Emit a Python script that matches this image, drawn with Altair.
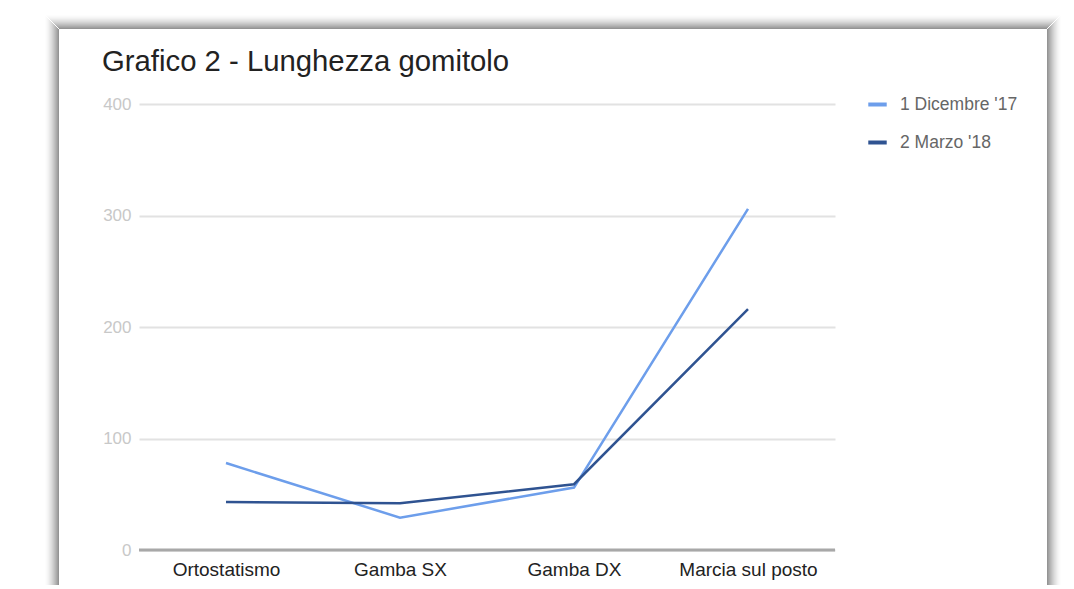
import altair as alt
import pandas as pd

categories = ["Ortostatismo", "Gamba SX", "Gamba DX", "Marcia sul posto"]
series_names = ["1 Dicembre '17", "2 Marzo '18"]
dic_17 = [78, 29, 56, 306]
mar_18 = [43, 42, 59, 216]
y_ticks = [0, 100, 200, 300, 400]
colors = ["#6d9eeb", "#2f5391"]

rows = []
for c, v in zip(categories, dic_17):
    rows.append({"categoria": c, "serie": series_names[0], "valore": v})
for c, v in zip(categories, mar_18):
    rows.append({"categoria": c, "serie": series_names[1], "valore": v})
df = pd.DataFrame(rows)

FONT = "Liberation Sans"

y_axis = alt.Axis(values=y_ticks, labelFontSize=17, labelColor="#c8c8c8",
                  labelFont=FONT, labelPadding=8, ticks=False,
                  domain=False, gridColor="#e2e2e2", gridWidth=2)
y_scale = alt.Scale(domain=[0, 400], nice=False)

lines = alt.Chart(df).mark_line(strokeWidth=2.5).encode(
    x=alt.X("categoria:N", sort=categories, title=None,
            scale=alt.Scale(type="point", padding=0.5),
            axis=alt.Axis(labelAngle=0, labelFontSize=19, labelColor="#222222",
                          labelFont=FONT, labelPadding=10, ticks=False,
                          domain=False, grid=False)),
    y=alt.Y("valore:Q", title=None, scale=y_scale, axis=y_axis),
    color=alt.Color("serie:N", sort=series_names,
                    scale=alt.Scale(domain=series_names, range=colors),
                    legend=alt.Legend(title=None, orient="none", legendX=727,
                                      legendY=-11, symbolType="stroke",
                                      symbolSize=340, symbolStrokeWidth=4,
                                      labelFontSize=17.5, labelColor="#666666",
                                      labelFont=FONT, labelOffset=11,
                                      rowPadding=18)),
    order=alt.Order("serie:N"),
)

zero = alt.Chart(pd.DataFrame({"valore": [0]})).mark_rule(color="#a8a8a8", strokeWidth=3).encode(
    y=alt.Y("valore:Q", title=None, scale=y_scale, axis=y_axis)
)

# decorative card shadow (left, top, right edges)
one = pd.DataFrame({"a": [0]})
shadow_layers = []
L, T, R, B = -80, -75, 908, 600
for d in range(1, 15):
    op = 0.42 * (1 - (d - 1) / 14) ** 1.6
    base = alt.Chart(one).mark_rule(color="#000000", strokeWidth=1, opacity=op)
    shadow_layers.append(base.encode(x=alt.value(L - d + 0.5), y=alt.value(T - d + 1), y2=alt.value(B)))
    shadow_layers.append(base.encode(y=alt.value(T - d + 0.5), x=alt.value(L - d + 1), x2=alt.value(R + d - 1)))
    shadow_layers.append(base.encode(x=alt.value(R + d - 0.5), y=alt.value(T - d + 1), y2=alt.value(B)))

chart = alt.layer(*shadow_layers, zero, lines).properties(
    width=696,
    height=446,
    autosize=alt.AutoSizeParams(type="none"),
    padding={"left": 131, "top": 96, "right": 231, "bottom": 35},
    title=alt.TitleParams("Grafico 2 - Lunghezza gomitolo", anchor="start", dx=57,
                          offset=-85, fontSize=29.3, font=FONT, color="#222222",
                          fontWeight="normal", baseline="alphabetic"),
).configure(background="#ffffff").configure_view(stroke="transparent")

chart.save("out.html", embed_options={"renderer": "svg", "actions": False})
